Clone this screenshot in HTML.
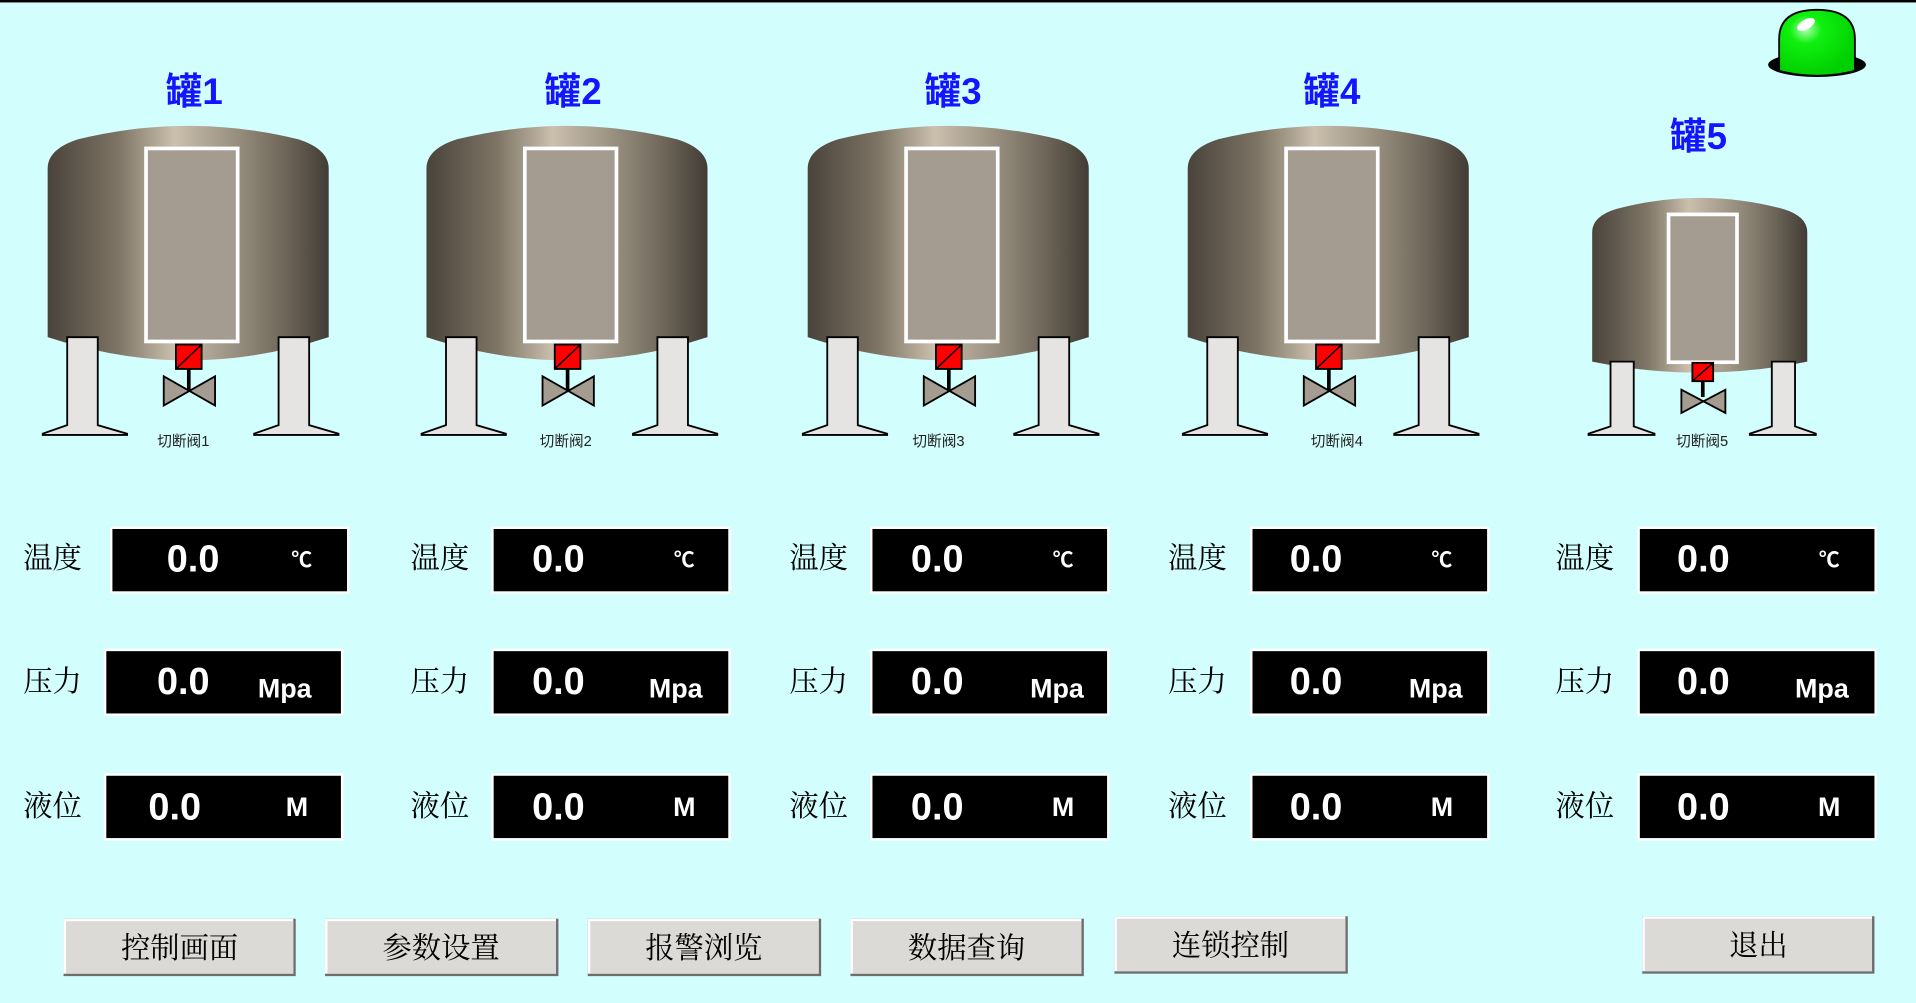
<!DOCTYPE html>
<html><head><meta charset="utf-8"><style>
html,body{margin:0;padding:0;background:#d2fefe;overflow:hidden}
svg{display:block}
.t{font-family:"Liberation Sans","Noto Sans CJK SC",sans-serif;font-weight:bold;fill:#1414ff;font-size:30px;text-anchor:middle}
.vl{font-family:"Liberation Serif","Noto Serif CJK SC",serif;font-size:24px;fill:#000}
.v{font-family:"Liberation Sans",sans-serif;font-weight:bold;font-size:31px;fill:#fff;text-anchor:middle}
.u{font-family:"Liberation Sans","Noto Sans CJK SC",sans-serif;font-weight:bold;font-size:22px;fill:#fff;text-anchor:middle}
.lb{font-family:"Liberation Sans","Noto Sans CJK SC",sans-serif;font-size:12px;fill:#222;text-anchor:middle}
.bt{font-family:"Liberation Serif","Noto Serif CJK SC",serif;font-size:24px;fill:#000;text-anchor:middle}
</style></head><body>
<svg width="1916" height="1003" viewBox="0 0 1568 821" preserveAspectRatio="none" xmlns="http://www.w3.org/2000/svg">
<defs>
<linearGradient id="g" x1="0" x2="1" y1="0" y2="0">
<stop offset="0" stop-color="#4a433b"/><stop offset="0.25" stop-color="#7d7465"/><stop offset="0.45" stop-color="#cbbfad"/><stop offset="0.62" stop-color="#a39a8a"/><stop offset="0.85" stop-color="#6d6558"/><stop offset="1" stop-color="#423c35"/>
</linearGradient>
<radialGradient id="gl" cx="0.35" cy="0.3" r="0.7"><stop offset="0" stop-color="#b0ffb0"/><stop offset="0.3" stop-color="#10f010"/><stop offset="1" stop-color="#00d000"/></radialGradient>
<g id="tank">
<path d="M0,176 L0,38 Q0,22 25,14 Q115,-8 205,14 Q230,22 230,38 L230,176 Q115,214 0,176 Z" fill="url(#g)"/>
<rect x="80.5" y="21.5" width="75" height="158" fill="#a49c91" stroke="#fff" stroke-width="3"/>
<path d="M16,176 L41,176 L41,248 L65,255 L65,256 L-4,256 L-4,255 L16,248 Z" fill="#e6e4e2" stroke="#000" stroke-width="1.5"/>
<path d="M189,176 L214,176 L214,248 L238,255 L238,256 L169,256 L169,255 L189,248 Z" fill="#e6e4e2" stroke="#000" stroke-width="1.5"/>
<rect x="105" y="182" width="21" height="20" fill="#f00" stroke="#000" stroke-width="1.5"/>
<line x1="105" y1="202" x2="126" y2="182" stroke="#000" stroke-width="1.2"/>
<line x1="115.5" y1="202" x2="115.5" y2="220" stroke="#000" stroke-width="3"/>
<path d="M95,208 L137,232 L137,208 L95,232 Z" fill="#a49c91" stroke="#000" stroke-width="1.5"/>
</g>
</defs>
<rect x="0" y="0" width="1568" height="2" fill="#000"/>
<text class="t" x="159" y="85">罐1</text>
<text class="t" x="469" y="85">罐2</text>
<text class="t" x="780" y="85">罐3</text>
<text class="t" x="1090" y="85">罐4</text>
<text class="t" x="1390" y="122">罐5</text>
<use href="#tank" x="39" y="100"/>
<use href="#tank" x="349" y="100"/>
<use href="#tank" x="661" y="100"/>
<use href="#tank" x="972" y="100"/>
<g transform="translate(1303,160)">
<path d="M0,136 L0,30 Q0,17 20,11 Q88,-7 156,11 Q176,17 176,30 L176,136 Q88,154 0,136 Z" fill="url(#g)"/>
<rect x="62.5" y="15.5" width="56" height="121" fill="#a49c91" stroke="#fff" stroke-width="3"/>
<path d="M15,136 L34,136 L34,189 L51,195 L51,196 L-3,196 L-3,195 L15,189 Z" fill="#e6e4e2" stroke="#000" stroke-width="1.5"/>
<path d="M147,136 L166,136 L166,189 L183,195 L183,196 L129,196 L129,195 L147,189 Z" fill="#e6e4e2" stroke="#000" stroke-width="1.5"/>
<rect x="82" y="137" width="17" height="15" fill="#f00" stroke="#000" stroke-width="1.5"/>
<line x1="82" y1="152" x2="99" y2="137" stroke="#000" stroke-width="1.2"/>
<line x1="90.5" y1="152" x2="90.5" y2="165" stroke="#000" stroke-width="3"/>
<path d="M73,159 L109,178 L109,159 L73,178 Z" fill="#a49c91" stroke="#000" stroke-width="1.5"/>
</g>
<text class="lb" x="150" y="365">切断阀1</text>
<text class="lb" x="463" y="365">切断阀2</text>
<text class="lb" x="768" y="365">切断阀3</text>
<text class="lb" x="1094" y="365">切断阀4</text>
<text class="lb" x="1393" y="365">切断阀5</text>
<ellipse cx="1487" cy="53" rx="40" ry="10" fill="#000"/>
<path d="M1456,58 L1456,32 Q1456,8 1487,8 Q1518,8 1518,32 L1518,58 Q1487,66 1456,58 Z" fill="url(#gl)" stroke="#000" stroke-width="1.5"/>
<ellipse cx="1478" cy="20" rx="8" ry="4" fill="#fff" transform="rotate(-30 1478 20)"/>
<g stroke="#fff" stroke-width="2" fill="#000">
<rect x="91" y="432" width="194" height="53"/><rect x="403" y="432" width="194" height="53"/><rect x="713" y="432" width="194" height="53"/><rect x="1024" y="432" width="194" height="53"/><rect x="1341" y="432" width="194" height="53"/>
<rect x="86" y="532" width="194" height="53"/><rect x="403" y="532" width="194" height="53"/><rect x="713" y="532" width="194" height="53"/><rect x="1024" y="532" width="194" height="53"/><rect x="1341" y="532" width="194" height="53"/>
<rect x="86" y="634" width="194" height="53"/><rect x="403" y="634" width="194" height="53"/><rect x="713" y="634" width="194" height="53"/><rect x="1024" y="634" width="194" height="53"/><rect x="1341" y="634" width="194" height="53"/>
</g>
<g class="vl">
<text x="19" y="465">温度</text><text x="336" y="465">温度</text><text x="646" y="465">温度</text><text x="956" y="465">温度</text><text x="1273" y="465">温度</text>
<text x="19" y="566">压力</text><text x="336" y="566">压力</text><text x="646" y="566">压力</text><text x="956" y="566">压力</text><text x="1273" y="566">压力</text>
<text x="19" y="668">液位</text><text x="336" y="668">液位</text><text x="646" y="668">液位</text><text x="956" y="668">液位</text><text x="1273" y="668">液位</text>
</g>
<text class="v" x="158" y="468">0.0</text><text class="v" x="457" y="468">0.0</text><text class="v" x="767" y="468">0.0</text><text class="v" x="1077" y="468">0.0</text><text class="v" x="1394" y="468">0.0</text>
<text class="v" x="150" y="568">0.0</text><text class="v" x="457" y="568">0.0</text><text class="v" x="767" y="568">0.0</text><text class="v" x="1077" y="568">0.0</text><text class="v" x="1394" y="568">0.0</text>
<text class="v" x="143" y="671">0.0</text><text class="v" x="457" y="671">0.0</text><text class="v" x="767" y="671">0.0</text><text class="v" x="1077" y="671">0.0</text><text class="v" x="1394" y="671">0.0</text>
<g class="u" style="font-size:17px">
<text x="247" y="464">℃</text><text x="560" y="464">℃</text><text x="870" y="464">℃</text><text x="1180" y="464">℃</text><text x="1497" y="464">℃</text>
</g>
<text class="u" x="233" y="571">Mpa</text><text class="u" x="553" y="571">Mpa</text><text class="u" x="865" y="571">Mpa</text><text class="u" x="1175" y="571">Mpa</text><text class="u" x="1491" y="571">Mpa</text>
<text class="u" x="243" y="668">M</text><text class="u" x="560" y="668">M</text><text class="u" x="870" y="668">M</text><text class="u" x="1180" y="668">M</text><text class="u" x="1497" y="668">M</text>
<g>
<g transform="translate(52,752)"><rect width="190" height="47" fill="#6e6e6e"/><rect width="188" height="45" fill="#fff"/><rect x="2" y="2" width="186" height="43" fill="#dcdad7"/><text class="bt" x="95" y="32">控制画面</text></g>
<g transform="translate(266,752)"><rect width="191" height="47" fill="#6e6e6e"/><rect width="189" height="45" fill="#fff"/><rect x="2" y="2" width="187" height="43" fill="#dcdad7"/><text class="bt" x="95" y="32">参数设置</text></g>
<g transform="translate(481,752)"><rect width="191" height="47" fill="#6e6e6e"/><rect width="189" height="45" fill="#fff"/><rect x="2" y="2" width="187" height="43" fill="#dcdad7"/><text class="bt" x="95" y="32">报警浏览</text></g>
<g transform="translate(696,752)"><rect width="191" height="47" fill="#6e6e6e"/><rect width="189" height="45" fill="#fff"/><rect x="2" y="2" width="187" height="43" fill="#dcdad7"/><text class="bt" x="95" y="32">数据查询</text></g>
<g transform="translate(912,750)"><rect width="191" height="47" fill="#6e6e6e"/><rect width="189" height="45" fill="#fff"/><rect x="2" y="2" width="187" height="43" fill="#dcdad7"/><text class="bt" x="95" y="32">连锁控制</text></g>
<g transform="translate(1344,750)"><rect width="190" height="47" fill="#6e6e6e"/><rect width="188" height="45" fill="#fff"/><rect x="2" y="2" width="186" height="43" fill="#dcdad7"/><text class="bt" x="95" y="32">退出</text></g>
</g>
</svg>
</body></html>
